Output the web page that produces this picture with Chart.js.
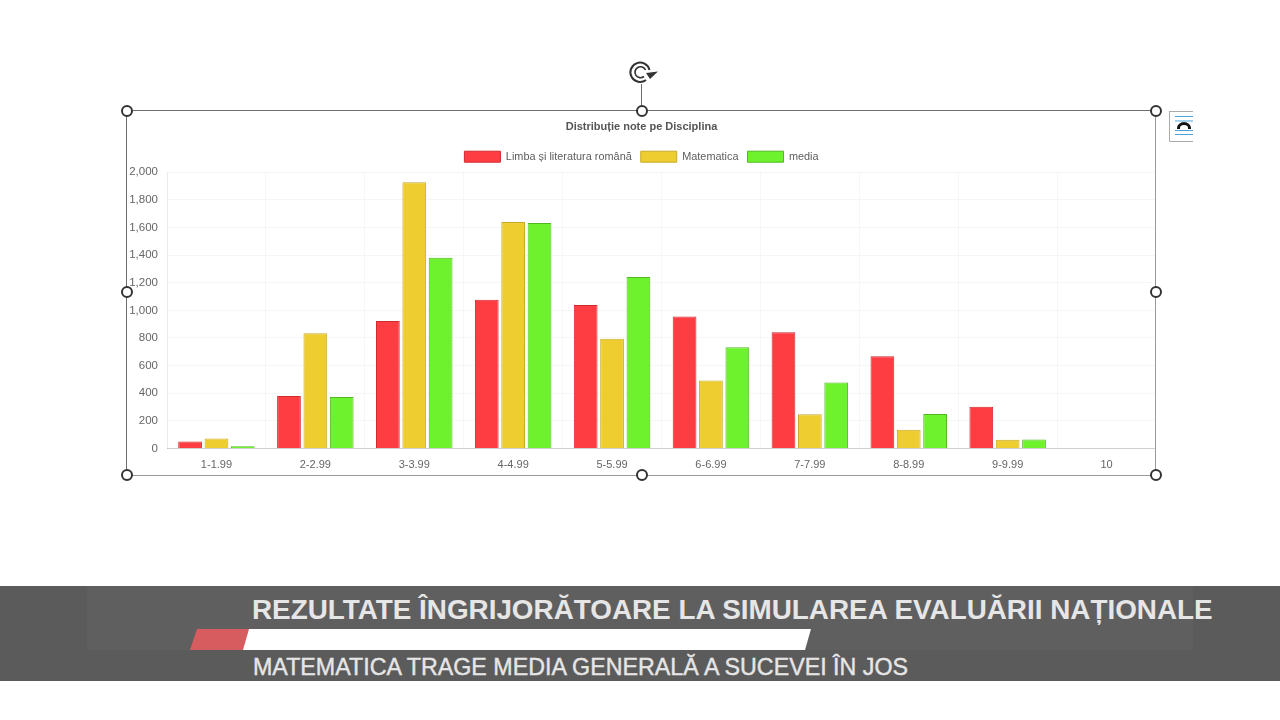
<!DOCTYPE html>
<html>
<head>
<meta charset="utf-8">
<script src="https://cdn.jsdelivr.net/npm/chart.js@4"></script>
<style>
html, body { margin: 0; padding: 0; background: #fff; overflow: hidden; }
#stage { position: relative; width: 1280px; height: 720px; font-family: "Liberation Sans", Arial, sans-serif; }
#wrap { position: absolute; left: 127px; top: 110px; width: 1029px; height: 365px; }
.frame { position: absolute; background: #6e6e6e; }
.handle { position: absolute; width: 8px; height: 8px; border: 2px solid #333; border-radius: 50%; background: #fff; transform: translate(-6px, -6px); }
#band { position: absolute; left: 0; top: 586px; width: 1280px; height: 95px; background: #5b5b5b; }
#bandInner { position: absolute; left: 87px; top: 586px; width: 1106px; height: 64px; background: #5f5f5f; }
#red { position: absolute; left: 190px; top: 629px; width: 60px; height: 21px; background: #d65c60; clip-path: polygon(7px 0, 100% 0, 100% 100%, 0 100%); }
#white { position: absolute; left: 243px; top: 629px; width: 568px; height: 21px; background: #fff; clip-path: polygon(6px 0, 100% 0, 562px 100%, 0 100%); }
#line1, #line2 { position: absolute; white-space: nowrap; color: #e6e6e6; }
#line1 { left: 252px; top: 595px; font-size: 27.85px; font-weight: bold; line-height: 30px; }
#line2 { left: 253px; top: 652px; font-size: 23.25px; line-height: 30px; -webkit-text-stroke: 0.4px #e6e6e6; }
</style>
</head>
<body>
<div id="stage">
  <div id="wrap"><canvas id="chartnote"></canvas></div>

  <div class="frame" style="left:127px;top:110px;width:1029px;height:1px"></div>
  <div class="frame" style="left:127px;top:475px;width:1029px;height:1px;background:#999"></div>
  <div class="frame" style="left:126px;top:110px;width:1px;height:365px"></div>
  <div class="frame" style="left:1155px;top:110px;width:1px;height:365px;background:#999"></div>
  <div class="frame" style="left:641px;top:84px;width:1px;height:26px"></div>
  <div class="handle" style="left:127px;top:111px"></div>
  <div class="handle" style="left:642px;top:111px"></div>
  <div class="handle" style="left:1156px;top:111px"></div>
  <div class="handle" style="left:127px;top:292px"></div>
  <div class="handle" style="left:1156px;top:292px"></div>
  <div class="handle" style="left:127px;top:475px"></div>
  <div class="handle" style="left:642px;top:475px"></div>
  <div class="handle" style="left:1156px;top:475px"></div>

  <svg style="position:absolute;left:626px;top:58px" width="34" height="30" viewBox="0 0 34 30">
    <path d="M20 22 A9.7 9.7 0 1 1 23.5 12" fill="none" stroke="#333" stroke-width="2"/>
    <path d="M18 18.5 A5.5 5.5 0 1 1 19.5 12" fill="none" stroke="#333" stroke-width="1.7"/>
    <path d="M20 15 L32 13.5 L24 21 Z" fill="#333"/>
  </svg>

  <svg style="position:absolute;left:1169px;top:111px" width="24" height="32" viewBox="0 0 24 32">
    <path d="M0.5 0 V30.5 H24 M0.5 0.5 H24" fill="none" stroke="#aaa"/>
    <path d="M6 5.5 H24 M6 10 H24 M6 19.5 H24 M6 23.5 H24" stroke="#4aa3d8" stroke-width="1"/>
    <path d="M9.5 18 V17 A5 4 0 0 1 20.5 17 V18" fill="none" stroke="#111" stroke-width="3"/>
  </svg>

  <div id="band"></div>
  <div id="bandInner"></div>
  <div id="red"></div>
  <div id="white"></div>
  <div id="line1">REZULTATE ÎNGRIJORĂTOARE LA SIMULAREA EVALUĂRII NAȚIONALE</div>
  <div id="line2">MATEMATICA TRAGE MEDIA GENERALĂ A SUCEVEI ÎN JOS</div>
</div>

<script>
var intervale = ['1-1.99', '2-2.99', '3-3.99', '4-4.99', '5-5.99', '6-6.99', '7-7.99', '8-8.99', '9-9.99', '10'];
var romana = [50, 380, 923, 1077, 1038, 956, 841, 668, 303, 0];
var matematica = [72, 834, 1927, 1639, 794, 493, 248, 135, 63, 3];
var media = [17, 373, 1380, 1632, 1242, 733, 478, 250, 65, 0];

Chart.defaults.font.family = '"Liberation Sans", Arial, sans-serif';
Chart.defaults.font.size = 11;
Chart.defaults.color = '#666';

// legenda ocupa prea mult pe inaltime, graficul trebuie sa urce
var legendaMica = {
    id: 'legendaMica',
    beforeLayout: function (chart) {
        chart.legend.afterFit = function () { this.height -= 3; };
    }
};

var ctx = document.getElementById('chartnote').getContext('2d');
var chartNote = new Chart(ctx, {
    type: 'bar',
    plugins: [legendaMica],
    data: {
        labels: intervale,
        datasets: [
            { label: 'Limba și literatura română', data: romana, backgroundColor: '#fe3d42', borderColor: '#d02a2e', borderWidth: 1 },
            { label: 'Matematica', data: matematica, backgroundColor: '#edcd2f', borderColor: '#c9ab2a', borderWidth: 1 },
            { label: 'media', data: media, backgroundColor: '#6ef22d', borderColor: '#52b822', borderWidth: 1 }
        ]
    },
    options: {
        responsive: true,
        maintainAspectRatio: false,
        animation: false,
        layout: { padding: { top: 10, right: 0, bottom: 0, left: 0 } },
        plugins: {
            title: {
                display: true,
                text: 'Distribuție note pe Disciplina',
                font: { size: 11, weight: 'bold' },
                color: '#555',
                padding: { top: 0, bottom: 9 }
            },
            legend: {
                labels: { boxWidth: 36, boxHeight: 11, padding: 9, color: '#5e5e5e', font: { size: 10.9 } }
            },
            tooltip: { enabled: false }
        },
        scales: {
            x: {
                afterFit: function (scale) { scale.height = 26.5; },
                grid: { color: 'rgba(0,0,0,0.03)', drawTicks: false, offset: true },
                border: { color: '#cfcfcf' },
                ticks: { padding: 10 }
            },
            y: {
                min: 0,
                max: 2000,
                afterFit: function (scale) { scale.width = 40; },
                grid: { color: 'rgba(0,0,0,0.035)', drawTicks: false },
                border: { color: 'rgba(0,0,0,0.05)' },
                ticks: { stepSize: 200, padding: 9, font: { size: 11.5 } }
            }
        }
    }
});
</script>
</body>
</html>
